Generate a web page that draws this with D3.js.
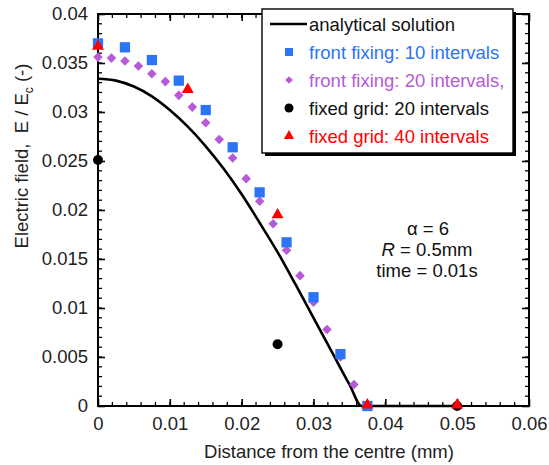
<!DOCTYPE html>
<html>
<head>
<meta charset="utf-8">
<script src="https://cdn.jsdelivr.net/npm/d3@7"></script>
<style>
  body { margin: 0; background: #fff; }
  svg { display: block; font-family: "Liberation Sans", Arial, sans-serif; }
</style>
</head>
<body>
<svg id="chart"></svg>
<script>
const width = 549;
const height = 465;

// analytical solution
const exactX = [0, 0.0025, 0.005, 0.0075, 0.01, 0.0125, 0.015, 0.0175, 0.02, 0.0225, 0.025, 0.0275, 0.03, 0.0325, 0.035, 0.0367, 0.05];
const exactY = [0.0334, 0.0332, 0.0326, 0.0316, 0.0302, 0.0285, 0.0265, 0.0242, 0.0216, 0.0187, 0.0157, 0.0124, 0.0090, 0.0056, 0.0022, 0, 0];

// front fixing: 10 intervals
const ff10X = [0, 0.00375, 0.0075, 0.01125, 0.015, 0.01875, 0.0225, 0.02625, 0.03, 0.03375, 0.0375];
const ff10Y = [0.0370, 0.0366, 0.0353, 0.0332, 0.0302, 0.0264, 0.0218, 0.0167, 0.0111, 0.0053, 0];

// front fixing: 20 intervals
const ff20X = [0, 0.001875, 0.00375, 0.005625, 0.0075, 0.009375, 0.01125, 0.013125, 0.015, 0.016875, 0.01875,
               0.020625, 0.0225, 0.024375, 0.02625, 0.028125, 0.03, 0.031875, 0.03375, 0.035625, 0.0375];
const ff20Y = [0.0356, 0.0355, 0.0352, 0.0347, 0.0339, 0.0331, 0.0317, 0.0305, 0.0289, 0.0272, 0.0253,
               0.0232, 0.0209, 0.0186, 0.0159, 0.0133, 0.0106, 0.0078, 0.0050, 0.0022, 0];

// fixed grid: 20 intervals
const fg20X = [0, 0.025, 0.05];
const fg20Y = [0.0251, 0.0063, 0];

// fixed grid: 40 intervals
const fg40X = [0, 0.0125, 0.025, 0.0375, 0.05];
const fg40Y = [0.0366, 0.0322, 0.0194, 0, 0];

const xTicks = [0, 0.01, 0.02, 0.03, 0.04, 0.05, 0.06];
const yTicks = [0, 0.005, 0.01, 0.015, 0.02, 0.025, 0.03, 0.035, 0.04];

const legendLabels = ['analytical solution', 'front fixing: 10 intervals', 'front fixing: 20 intervals,',
                      'fixed grid: 20 intervals', 'fixed grid: 40 intervals'];
const notes = ['α = 6', 'R = 0.5mm', 'time = 0.01s'];

const blue = '#2b74f6';
const purple = '#b65ad8';
const red = '#ff0000';
const fs = 18.5;

const svg = d3.select('#chart')
    .attr('width', width)
    .attr('height', height);

const x = d3.scaleLinear().domain([0, 0.06]).range([98, 529]);
const y = d3.scaleLinear().domain([0, 0.04]).range([406, 14]);

const fmt = d => d === 0 ? '0' : String(+d.toFixed(3));

// minor ticks
const xMinor = d3.range(0, 0.0601, 0.002).map(v => +v.toFixed(3));
const yMinor = d3.range(0, 0.0401, 0.001).map(v => +v.toFixed(3));

const bottomAxis = d3.axisBottom(x).tickValues(xTicks).tickSize(-7).tickPadding(11).tickFormat(fmt);
const leftAxis = d3.axisLeft(y).tickValues(yTicks).tickSize(-7).tickPadding(10).tickFormat(fmt);

function styleAxis(g) {
    g.select('.domain').remove();
    g.selectAll('line').attr('stroke', '#000').attr('stroke-width', 1.6);
    g.selectAll('text').attr('font-size', fs).attr('fill', '#222')
        .attr('font-family', '"Liberation Sans", Arial, sans-serif');
}

// minor ticks on all four sides
const minor = svg.append('g').attr('stroke', '#000').attr('stroke-width', 1.3);
minor.selectAll('.xb').data(xMinor).join('line').attr('class', 'xb')
    .attr('x1', d => x(d)).attr('x2', d => x(d)).attr('y1', 406).attr('y2', 402);
minor.selectAll('.xt').data(xMinor).join('line').attr('class', 'xt')
    .attr('x1', d => x(d)).attr('x2', d => x(d)).attr('y1', 14).attr('y2', 18);
minor.selectAll('.yl').data(yMinor).join('line').attr('class', 'yl')
    .attr('x1', 98).attr('x2', 102).attr('y1', d => y(d)).attr('y2', d => y(d));
minor.selectAll('.yr').data(yMinor).join('line').attr('class', 'yr')
    .attr('x1', 529).attr('x2', 525).attr('y1', d => y(d)).attr('y2', d => y(d));

svg.append('g').attr('transform', 'translate(0,406)').call(bottomAxis).call(styleAxis);
svg.append('g').attr('transform', 'translate(98,0)').call(leftAxis).call(styleAxis);
svg.append('g').attr('transform', 'translate(0,14)')
    .call(d3.axisTop(x).tickValues(xTicks).tickSize(-7).tickFormat(''))
    .call(styleAxis);
svg.append('g').attr('transform', 'translate(529,0)')
    .call(d3.axisRight(y).tickValues(yTicks).tickSize(-7).tickFormat(''))
    .call(styleAxis);

// frame
svg.append('rect')
    .attr('x', 98).attr('y', 14).attr('width', 529 - 98).attr('height', 406 - 14)
    .attr('fill', 'none').attr('stroke', '#000').attr('stroke-width', 2);

// analytical line
const exact = exactX.map((d, i) => [d, exactY[i]]);
svg.append('path')
    .datum(exact)
    .attr('fill', 'none')
    .attr('stroke', '#000')
    .attr('stroke-width', 2.6)
    .attr('d', d3.line().x(d => x(d[0])).y(d => y(d[1])).curve(d3.curveMonotoneX));

const diamond = d3.symbol().type(d3.symbolSquare).size(46)();
const square = d3.symbol().type(d3.symbolSquare).size(105)();
const tri = d3.symbol().type(d3.symbolTriangle).size(62)();

// front fixing 20
svg.append('g').selectAll('path')
    .data(ff20X.map((d, i) => [d, ff20Y[i]]))
    .join('path')
    .attr('d', diamond)
    .attr('transform', d => `translate(${x(d[0])},${y(d[1])}) rotate(45)`)
    .attr('fill', purple);

// front fixing 10
svg.append('g').selectAll('path')
    .data(ff10X.map((d, i) => [d, ff10Y[i]]))
    .join('path')
    .attr('d', square)
    .attr('transform', d => `translate(${x(d[0])},${y(d[1])})`)
    .attr('fill', blue);

// fixed grid 20
svg.append('g').selectAll('circle')
    .data(fg20X.map((d, i) => [d, fg20Y[i]]))
    .join('circle')
    .attr('cx', d => x(d[0]))
    .attr('cy', d => y(d[1]))
    .attr('r', 5)
    .attr('fill', '#000');

// fixed grid 40
svg.append('g').selectAll('path')
    .data(fg40X.map((d, i) => [d, fg40Y[i]]))
    .join('path')
    .attr('d', tri)
    .attr('transform', d => `translate(${x(d[0])},${y(d[1]) - 1})`)
    .attr('fill', red);

// axis titles
svg.append('text')
    .attr('x', 329).attr('y', 458)
    .attr('text-anchor', 'middle')
    .attr('font-size', fs)
    .attr('fill', '#222')
    .text('Distance from the centre (mm)');

const yt = svg.append('text')
    .attr('transform', 'translate(28,156) rotate(-90)')
    .attr('text-anchor', 'middle')
    .attr('font-size', fs)
    .attr('fill', '#222')
    .style('white-space', 'pre');
yt.append('tspan').text('Electric field,  E / E');
yt.append('tspan').attr('font-size', 12).attr('dy', 5).text('c');
yt.append('tspan').attr('dy', -5).text(' (-)');

// annotation
const ann = svg.append('text')
    .attr('text-anchor', 'middle')
    .attr('font-size', fs)
    .attr('fill', '#111');
ann.append('tspan').attr('x', 428).attr('y', 235).text(notes[0]);
const r = ann.append('tspan').attr('x', 427).attr('y', 256);
r.append('tspan').attr('font-style', 'italic').text(notes[1].slice(0, 1));
r.append('tspan').text(notes[1].slice(1));
ann.append('tspan').attr('x', 427).attr('y', 277).text(notes[2]);

// legend
const lg = svg.append('g').attr('transform', 'translate(262,9)');
lg.append('rect').attr('x', 3).attr('y', 3).attr('width', 251).attr('height', 144).attr('fill', '#000');
lg.append('rect').attr('x', 0).attr('y', 0).attr('width', 251).attr('height', 144)
    .attr('fill', '#fff').attr('stroke', '#000').attr('stroke-width', 1.4);

const legendColors = ['#111', blue, purple, '#111', red];
const rowY = d3.scaleLinear().domain([0, 4]).range([15, 127]);

lg.selectAll('text')
    .data(legendLabels)
    .join('text')
    .attr('x', 47)
    .attr('y', (d, i) => rowY(i) + 7)
    .attr('font-size', fs)
    .attr('fill', (d, i) => legendColors[i])
    .text(d => d);

lg.append('line')
    .attr('x1', 8).attr('x2', 45).attr('y1', rowY(0)).attr('y2', rowY(0))
    .attr('stroke', '#000').attr('stroke-width', 2.6);
lg.append('path').attr('d', d3.symbol().type(d3.symbolSquare).size(64)())
    .attr('transform', `translate(27,${rowY(1)})`).attr('fill', blue);
lg.append('path').attr('d', d3.symbol().type(d3.symbolSquare).size(30)())
    .attr('transform', `translate(27,${rowY(2)}) rotate(45)`).attr('fill', purple);
lg.append('circle').attr('cx', 27).attr('cy', rowY(3)).attr('r', 4.5).attr('fill', '#000');
lg.append('path').attr('d', d3.symbol().type(d3.symbolTriangle).size(45)())
    .attr('transform', `translate(27,${rowY(4)})`).attr('fill', red);
</script>
</body>
</html>
